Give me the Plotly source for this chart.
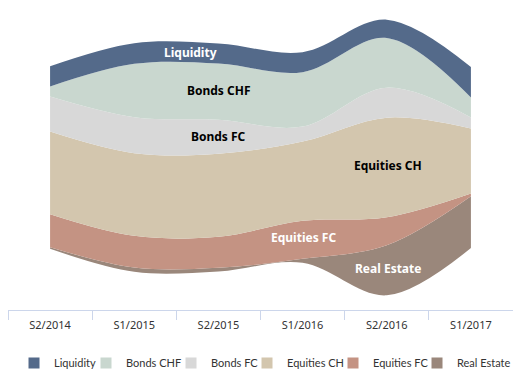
import plotly.graph_objects as go

categories = ["S2/2014", "S1/2015", "S2/2015", "S1/2016", "S2/2016", "S1/2017"]

liquidity = [20.3, 20.7, 20.0, 20.0, 18.4, 30.6]
bonds_chf = [10.0, 53.3, 56.3, 54.4, 49.6, 20.0]
bonds_fc = [35.0, 36.0, 34.0, 15.0, 30.0, 11.0]
equities_ch = [82.7, 82.7, 83.0, 79.3, 99.7, 65.0]
equities_fc = [33.0, 31.7, 31.0, 38.0, 28.0, 2.7]
real_estate = [1.6, 4.3, 3.7, 4.0, 50.0, 51.7]

series_names = ["Liquidity", "Bonds CHF", "Bonds FC", "Equities CH", "Equities FC", "Real Estate"]
series_values = [liquidity, bonds_chf, bonds_fc, equities_ch, equities_fc, real_estate]
colors = ["#546a8a", "#c9d7cf", "#d8d8d8", "#d3c6ae", "#c49383", "#9a877b"]

# label styling / placement (category index, value)
label_pos = [(1.67, 105.0), (2.0, 67.0), (2.0, 21.5), (4.02, -8.0), (3.01, -80.0), (4.01, -111.0)]
label_colors = ["white", "black", "black", "black", "white", "white"]
legend_widths = [27, 40, 31, 41, 39, 56]

# streamgraph: centre the stack around zero
totals = [sum(v) for v in zip(*series_values)]
baseline = [-t / 2 for t in totals]

fig = go.Figure()
fig.add_trace(go.Scatter(
    x=categories, y=baseline, stackgroup="s", mode="lines", fill="none",
    line=dict(width=0, shape="spline"), hoverinfo="skip", showlegend=False))

for name, vals, col in reversed(list(zip(series_names, series_values, colors))):
    fig.add_trace(go.Scatter(
        x=categories, y=vals, name=name, stackgroup="s", mode="lines",
        fill="tonexty", fillcolor=col,
        line=dict(width=0, shape="spline", color=col),
        hoverinfo="skip", showlegend=False))

for name, col, lw in zip(series_names, colors, legend_widths):
    fig.add_trace(go.Scatter(
        x=[None], y=[None], name=name, mode="markers",
        marker=dict(symbol="square", size=11, color=col),
        legendwidth=lw, showlegend=True))

for name, (lx, ly), lc in zip(series_names, label_pos, label_colors):
    fig.add_annotation(x=lx, y=ly, text="<b>" + name + "</b>", showarrow=False,
                       font=dict(family="Noto Sans", size=12, color=lc))

fig.update_layout(
    width=513, height=380,
    margin=dict(l=0, r=8, t=0, b=78),
    paper_bgcolor="white", plot_bgcolor="white",
    hovermode=False,
    font=dict(family="Noto Sans", size=11, color="#333333"),
    legend=dict(orientation="h", x=0.0119, xanchor="left", y=-0.1755, yanchor="middle",
                font=dict(family="Lato", size=11, color="#333333"),
                bgcolor="rgba(0,0,0,0)", traceorder="normal"),
    xaxis=dict(type="category", range=[-0.5, 5.5], showline=True, linecolor="#ccd6eb",
               linewidth=1, ticks="outside", tickson="boundaries", ticklen=9,
               tickcolor="#ccd6eb", showgrid=False, zeroline=False,
               ticklabelstandoff=5,
               tickfont=dict(family="Noto Sans", size=11, color="#333333")),
    yaxis=dict(range=[-152.5, 149.5], visible=False, showgrid=False, zeroline=False),
)

fig.write_html("out.html")
